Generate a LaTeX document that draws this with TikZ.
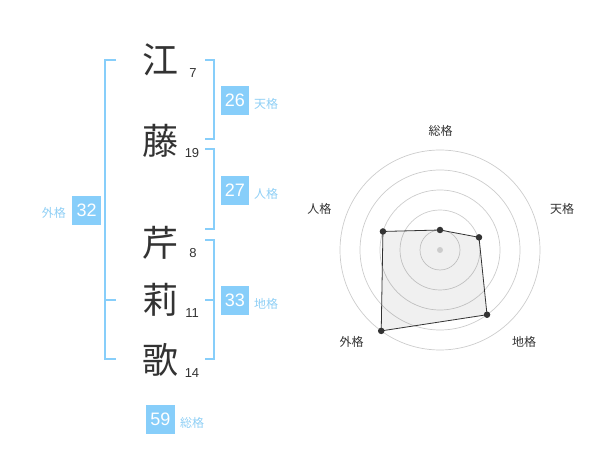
\documentclass[tikz,border=0pt]{standalone}
\usepackage{fontspec}
\setmainfont{Liberation Sans}
\newfontfamily\cjk{Noto Sans CJK JP}
\definecolor{skyb}{HTML}{87CEFA}
\definecolor{lbl}{HTML}{8FCFF5}
\definecolor{dark}{HTML}{333333}
\definecolor{ring}{HTML}{CCCCCC}
\begin{document}
\begin{tikzpicture}[x=1pt,y=-1pt,
  kanji/.style={font=\cjk\fontsize{36}{36}\selectfont, text=dark, inner sep=0pt},
  strokes/.style={font=\fontsize{13}{13}\selectfont, text=dark, inner sep=0pt},
  brk/.style={draw=skyb, line width=1.6pt},
  numbox/.style={fill=skyb, text=white, minimum width=28.5pt, minimum height=29pt, inner sep=0pt, font=\fontsize{18}{18}\selectfont},
  kaku/.style={text=lbl, inner sep=0pt, font=\cjk\fontsize{12}{12}\selectfont},
  axlbl/.style={text=dark, inner sep=0pt, font=\cjk\fontsize{12}{12}\selectfont},
  vdot/.style={circle, fill=dark, inner sep=0pt, minimum size=6.5pt}]
\useasboundingbox (0,0) rectangle (600,470);
% characters
\node[kanji] (c1) at (160,60) {江};
\node[kanji] (c2) at (160,141) {藤};
\node[kanji] (c3) at (160,243) {芹};
\node[kanji] (c4) at (160,300) {莉};
\node[kanji] (c5) at (160,360) {歌};
\node[strokes] (s1) at (193,73) {7};
\node[strokes] (s2) at (192,153) {19};
\node[strokes] (s3) at (193,253) {8};
\node[strokes] (s4) at (192,313) {11};
\node[strokes] (s5) at (192,373) {14};
% brackets
\draw[brk] (116,60) -- (105,60) -- (105,359) -- (116,359);
\draw[brk] (105,300) -- (116,300);
\draw[brk] (205,60) -- (214,60) -- (214,139) -- (205,139);
\draw[brk] (205,149) -- (214,149) -- (214,229) -- (205,229);
\draw[brk] (205,240) -- (214,240) -- (214,359) -- (205,359);
\draw[brk] (205,300) -- (214,300);
% boxes
\node[numbox] (ten) at (235,100.5) {26};
\node[kaku, anchor=west] (tenl) at (254,104) {天格};
\node[numbox] (jin) at (235,190.5) {27};
\node[kaku, anchor=west] (jinl) at (254,194) {人格};
\node[numbox] (chi) at (235,300.5) {33};
\node[kaku, anchor=west] (chil) at (254,304) {地格};
\node[numbox] (gai) at (86.7,210.5) {32};
\node[kaku, anchor=east] (gail) at (66,213) {外格};
\node[numbox] (sou) at (160.5,419) {59};
\node[kaku, anchor=west] (soul) at (180,423) {総格};
% radar
\coordinate (ctr) at (440,250);
\foreach \r in {20,40,60,80,100} \draw[ring, line width=0.7pt] (ctr) circle (\r);
\path (ctr) ++(0,-20) coordinate (pa);
\path (ctr) ++(41*cos 18,-41*sin 18) coordinate (pb);
\path (ctr) ++(80*cos 54,80*sin 54) coordinate (pc);
\path (ctr) ++(-100*cos 54,100*sin 54) coordinate (pd);
\path (ctr) ++(-60*cos 18,-60*sin 18) coordinate (pe);
\fill[black, fill opacity=0.06] (pa) -- (pb) -- (pc) -- (pd) -- (pe) -- cycle;
\draw[dark, line width=0.8pt] (pa) -- (pb) -- (pc) -- (pd) -- (pe) -- cycle;
\fill[ring] (ctr) circle (3);
\foreach \p in {pa,pb,pc,pd,pe} \node[vdot] at (\p) {};
\node[axlbl] (a1) at (440.7,130.7) {総格};
\node[axlbl] (a2) at (562,209) {天格};
\node[axlbl] (a3) at (524,342) {地格};
\node[axlbl] (a4) at (351.7,342) {外格};
\node[axlbl] (a5) at (319.3,209) {人格};
\end{tikzpicture}
\end{document}
